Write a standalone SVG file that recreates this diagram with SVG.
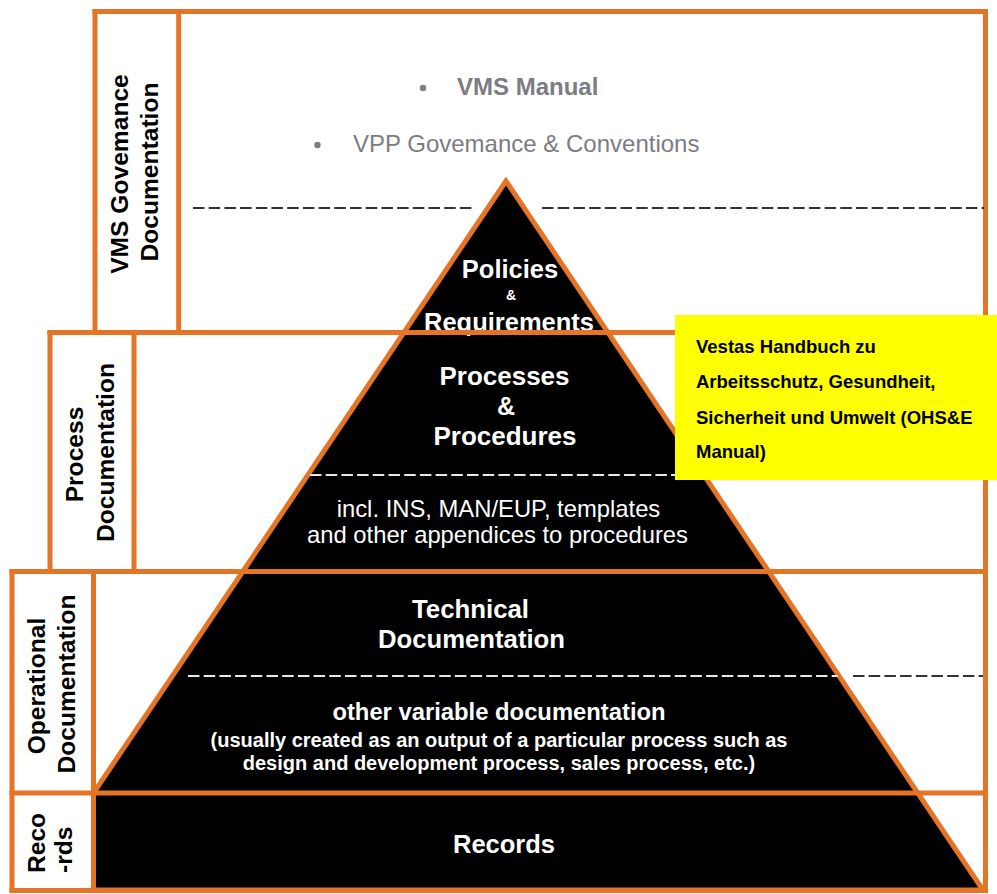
<svg xmlns="http://www.w3.org/2000/svg" width="997" height="894" viewBox="0 0 997 894">
<style>
.o{stroke:#E47426;stroke-width:5;fill:none;stroke-linecap:square}
.ff{font-family:"Liberation Sans",Arial,Helvetica,sans-serif}
.lbl{font-weight:bold;font-size:24.6px;fill:#000;text-anchor:middle}
.pt{fill:#fff;text-anchor:middle;font-weight:bold}
.pn{fill:#fff;text-anchor:middle;font-weight:normal}
.dk{stroke:#333;stroke-width:2;stroke-dasharray:11.5 4.2;fill:none}
.wt{stroke:#e8e8e8;stroke-width:2;stroke-dasharray:11.5 4.2;fill:none}
.gr{font-size:24px;fill:#7c7c82}
.yt{font-weight:bold;font-size:18.5px;fill:#000}
</style>
<rect width="997" height="894" fill="#fff"/>

<g id="pyramid">
<polygon points="506,181 93.5,793 93.5,890 983,890" fill="#000" stroke="#E47426" stroke-width="5"/>
</g>

<g id="layer-policies" class="ff">
<text class="pt" x="510" y="278" font-size="25.5">Policies</text>
<text class="pt" x="511" y="300" font-size="14">&amp;</text>
<text class="pt" x="509" y="331" font-size="25.5">Requirements</text>
</g>

<g id="layer-processes" class="ff">
<text class="pt" x="504.5" y="385" font-size="26">Processes</text>
<text class="pt" x="506" y="415" font-size="25">&amp;</text>
<text class="pt" x="505" y="445" font-size="26">Procedures</text>
<text class="pn" x="498.5" y="517" font-size="23.8">incl. INS, MAN/EUP, templates</text>
<text class="pn" x="497.5" y="543" font-size="23.8">and other appendices to procedures</text>
</g>

<g id="layer-operational" class="ff">
<text class="pt" x="470.5" y="618" font-size="25.8">Technical</text>
<text class="pt" x="471.5" y="648" font-size="25.7">Documentation</text>
<text class="pt" x="499" y="720" font-size="23.8">other variable documentation</text>
<text class="pt" x="499" y="747" font-size="20">(usually created as an output of a particular process such as</text>
<text class="pt" x="499" y="770" font-size="20">design and development process, sales process, etc.)</text>
</g>

<g id="layer-records" class="ff">
<text class="pt" x="504" y="853" font-size="25.5">Records</text>
</g>

<g id="frames">
<line class="o" x1="95" y1="11.5" x2="985.5" y2="11.5"/>
<line class="o" x1="95" y1="11.5" x2="95" y2="332.5"/>
<line class="o" x1="178.7" y1="11.5" x2="178.7" y2="332.5"/>
<line class="o" x1="50" y1="332.5" x2="985.5" y2="332.5"/>
<line class="o" x1="50" y1="332.5" x2="50" y2="571.5"/>
<line class="o" x1="134" y1="332.5" x2="134" y2="571.5"/>
<line class="o" x1="12" y1="571.5" x2="985.5" y2="571.5"/>
<line class="o" x1="12" y1="571.5" x2="12" y2="890.5"/>
<line class="o" x1="93.5" y1="571.5" x2="93.5" y2="890.5"/>
<line class="o" x1="12" y1="793" x2="985.5" y2="793"/>
<line class="o" x1="12" y1="890.5" x2="985.5" y2="890.5"/>
<line class="o" x1="985.5" y1="11.5" x2="985.5" y2="890.5"/>
</g>

<g id="connectors">
<line class="dk" x1="193" y1="208" x2="473" y2="208"/>
<line class="dk" x1="542" y1="208" x2="984" y2="208"/>
<line class="wt" x1="310" y1="475" x2="690" y2="475"/>
<line class="wt" x1="188" y1="676" x2="838" y2="676"/>
<line class="dk" x1="853" y1="676" x2="983" y2="676"/>
</g>

<g id="governance-docs" class="ff">
<circle cx="423" cy="88" r="3.2" fill="#7c7c82"/>
<text class="gr" x="457" y="95" font-weight="bold">VMS Manual</text>
<circle cx="317.5" cy="145" r="3.2" fill="#7c7c82"/>
<text class="gr" x="353" y="152">VPP Govemance &amp; Conventions</text>
</g>

<g id="label-governance" class="ff lbl">
<text transform="translate(128,174) rotate(-90)">VMS Govemance</text>
<text transform="translate(158,172) rotate(-90)">Documentation</text>
</g>
<g id="label-process" class="ff lbl">
<text transform="translate(83,454.5) rotate(-90)">Process</text>
<text transform="translate(114,452.5) rotate(-90)">Documentation</text>
</g>
<g id="label-operational" class="ff lbl">
<text transform="translate(45,686) rotate(-90)">Operational</text>
<text transform="translate(75,684) rotate(-90)">Documentation</text>
</g>
<g id="label-records" class="ff lbl">
<text transform="translate(45,873) rotate(-90)" text-anchor="start">Reco</text>
<text transform="translate(72,873) rotate(-90)" text-anchor="start">-rds</text>
</g>

<g id="note-ohse" class="ff">
<rect x="675" y="315" width="322" height="165" fill="#FFFF00"/>
<text class="yt" x="696" y="353">Vestas Handbuch zu</text>
<text class="yt" x="696" y="388">Arbeitsschutz, Gesundheit,</text>
<text class="yt" x="696" y="423.5">Sicherheit und Umwelt (OHS&amp;E</text>
<text class="yt" x="696" y="458">Manual)</text>
</g>
</svg>
